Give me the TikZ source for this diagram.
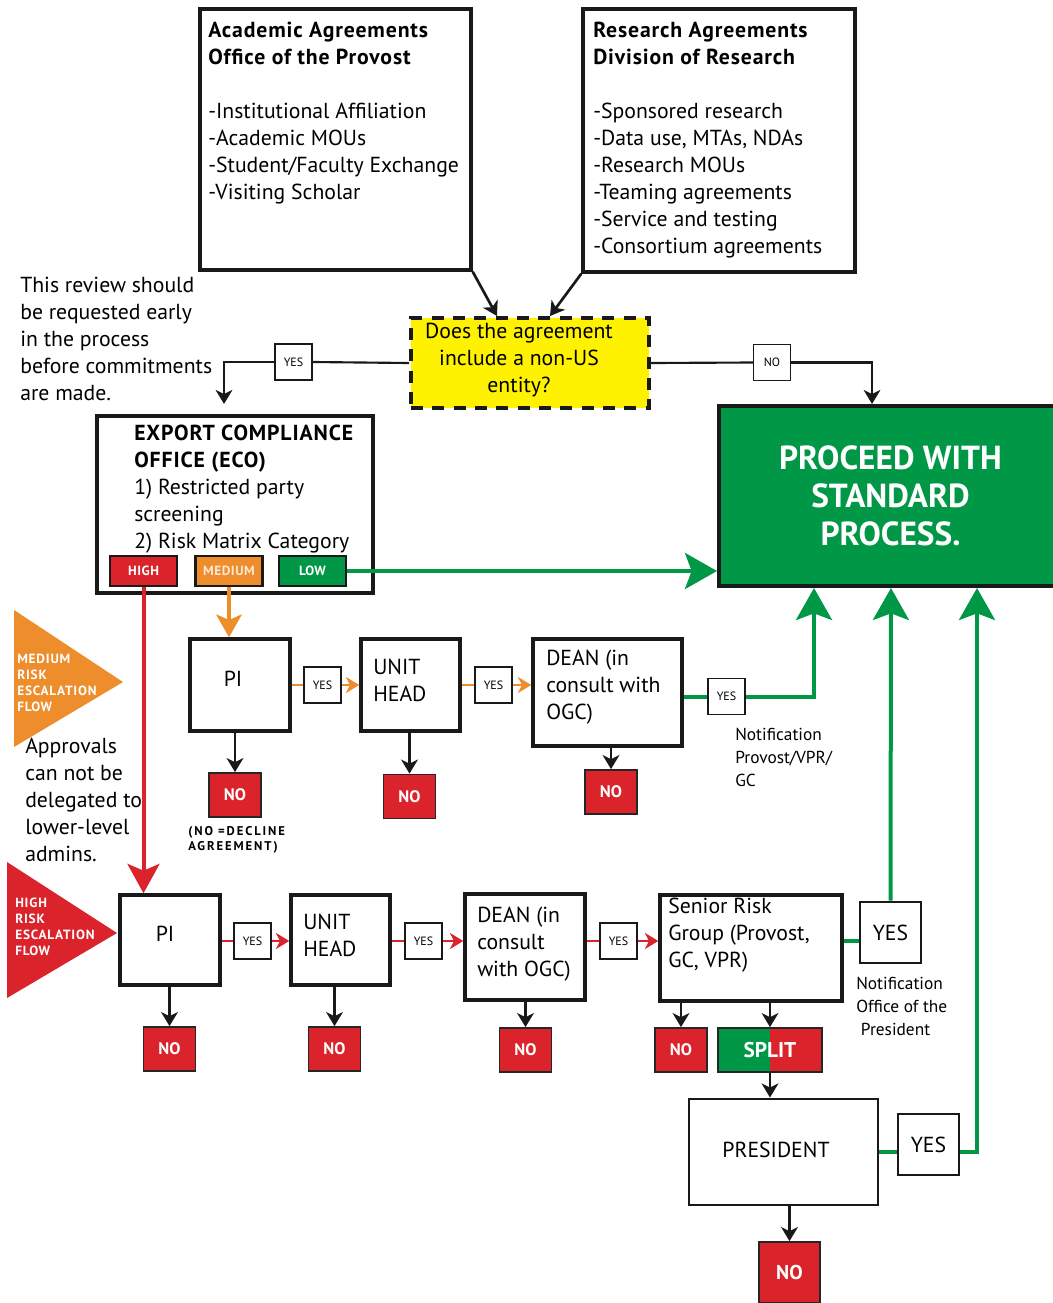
\documentclass[tikz,border=0pt]{standalone}
\usepackage{fontspec}
\setmainfont{PT Sans}
\usetikzlibrary{arrows.meta}
\definecolor{grn}{RGB}{0,152,70}
\definecolor{redno}{RGB}{218,35,42}
\definecolor{orng}{RGB}{238,141,43}
\definecolor{yel}{RGB}{255,242,0}
\newcommand{\bodysize}{\fontsize{16.3}{20.25}\selectfont}
\newcommand{\notesize}{\fontsize{13}{16.9}\selectfont}
\newcommand{\ttl}[1]{\textbf{\addfontfeature{LetterSpace=4}#1}}

\tikzset{
  box/.style={draw=black!90, line width=2.6pt, fill=white},
  txt/.style={inner sep=0pt, align=left, font=\bodysize},
  question/.style={fill=yel, draw=black!90, line width=3pt, dash pattern=on 9pt off 7pt},
  proceed/.style={fill=grn, draw=black!90, line width=3pt, text=white, align=center, font=\bfseries\fontsize{25}{28.5}\selectfont},
  yesbox/.style={draw=black!90, line width=1pt, fill=white, minimum width=27.75pt, minimum height=27pt, inner sep=0pt, font=\fontsize{9}{9}\selectfont},
  bigyes/.style={draw=black!90, line width=1.9pt, fill=white, minimum size=45.75pt, inner sep=0pt, font=\bodysize},
  nobox/.style={draw=black!85, line width=1.3pt, fill=redno, text=white, minimum width=39pt, minimum height=33pt, inner sep=0pt, font=\bfseries\fontsize{12.5}{12.5}\selectfont},
  badge/.style={draw=black!90, line width=1.9pt, text=white, minimum width=50.25pt, minimum height=22.5pt, inner sep=0pt, font=\bfseries\fontsize{10}{10}\selectfont\addfontfeature{LetterSpace=4}},
  tri/.style={inner sep=0pt, align=left, text=white, font=\bfseries\fontsize{10}{12}\selectfont\addfontfeature{LetterSpace=6}},
  blk/.style={draw=black!90, line width=1.6pt},
  blkarr/.style={draw=black!90, line width=2pt, -{Stealth[length=10.5pt,width=12.5pt,inset=3pt]}},
  grnline/.style={draw=grn, line width=3pt},
  grnarr/.style={grnline, -{Stealth[length=24pt,width=27pt,inset=5pt]}},
  orgline/.style={draw=orng, line width=2.2pt},
  orgarr/.style={orgline, -{Stealth[length=10pt,width=12pt,inset=3pt]}},
  orgbig/.style={draw=orng, line width=3pt, -{Stealth[length=17pt,width=19pt,inset=4pt]}},
  redline/.style={draw=redno, line width=2.2pt},
  redarr/.style={redline, -{Stealth[length=10pt,width=12pt,inset=3pt]}},
  redbig/.style={draw=redno, line width=3pt, -{Stealth[length=22pt,width=24pt,inset=5pt]}}
}

\begin{document}
\begin{tikzpicture}[x=0.75pt, y=-0.75pt]
\useasboundingbox (0,0) rectangle (1053,1303);

% agreement offices (text nodes sit on the baseline of their last line)
\node[box, minimum width=203.25pt, minimum height=195.75pt] (acad) at (335.5,139.5) {};
\node[txt, anchor=base west] (acadtxt) at (208,199) {\ttl{Academic Agreements}\\ \ttl{Office of the Provost}\\[20.25pt] -Institutional Affiliation\\ -Academic MOUs\\ -Student/Faculty Exchange\\ -Visiting Scholar};
\node[box, minimum width=204pt, minimum height=197.25pt] (resrch) at (719,140.5) {};
\node[txt, anchor=base west] (resrchtxt) at (593,253) {\ttl{Research Agreements}\\ \ttl{Division of Research}\\[20.25pt] -Sponsored research\\ -Data use, MTAs, NDAs\\ -Research MOUs\\ -Teaming agreements\\ -Service and testing\\ -Consortium agreements};

% question
\node[question, minimum width=178.5pt, minimum height=67.5pt] (quest) at (530,363) {};
\node[txt, align=center] (questtxt) at (519,360) {Does the agreement\\ include a non-US\\ entity?};
\node[txt, anchor=base west] (early) at (20,400) {This review should\\ be requested early\\ in the process\\ before commitments\\ are made.};
\node[yesbox] (yes0) at (293.5,362) {YES};
\node[yesbox] (no0) at (772,362.5) {NO};
\coordinate (ecoin) at (224,404);
\coordinate (procin) at (872,404);

% export compliance
\node[box, minimum width=207pt, minimum height=132.75pt] (eco) at (235,504.5) {};
\node[txt, anchor=base west] (ecotxt) at (134,548) {\ttl{EXPORT COMPLIANCE}\\ \ttl{OFFICE (ECO)}\\ 1) Restricted party\\ screening\\ 2) Risk Matrix Category};
\node[badge, fill=redno] (high) at (143.5,571) {HIGH};
\node[badge, fill=orng, text=white!80!orng] (medium) at (229,571) {MEDIUM};
\node[badge, fill=grn] (low) at (312.5,571) {LOW};

\node[proceed, minimum width=257.25pt, minimum height=135pt] (proceed) at (890.5,496) {PROCEED WITH\\ STANDARD\\ PROCESS.};
\coordinate (in1) at (814,588);
\coordinate (in2) at (891,588);
\coordinate (in3) at (977,588);

% flow labels
\fill[orng] (14,610) -- (14,747) -- (123,682) -- cycle;
\node[tri, anchor=base west] (medflow) at (17,711) {MEDIUM\\ RISK\\ ESCALATION\\ FLOW};
\node[txt, anchor=base west] (approvals) at (25,861) {Approvals\\ can not be\\ delegated to\\ lower-level\\ admins.};
\fill[redno] (7,862) -- (7,998) -- (117,933) -- cycle;
\node[tri, anchor=base west] (highflow) at (15,955) {HIGH\\ RISK\\ ESCALATION\\ FLOW};

% medium risk row
\node[box, minimum width=75pt, minimum height=69pt] (pi1) at (240,685) {};
\node[txt] (pi1txt) at (233,679) {PI};
\node[box, minimum width=74.25pt, minimum height=69pt] (uh1) at (410.5,685) {};
\node[txt, anchor=base west] (uh1txt) at (373,701) {UNIT\\ HEAD};
\node[box, minimum width=111.75pt, minimum height=80.25pt] (dean1) at (607.5,692.5) {};
\node[txt, anchor=base west] (dean1txt) at (546,719) {DEAN (in\\ consult with\\ OGC)};
\node[yesbox] (y11) at (322.5,685) {YES};
\node[yesbox] (y12) at (493.5,685) {YES};
\node[yesbox] (y13) at (726.5,696.5) {YES};
\node[txt, anchor=base west, font=\notesize] (notif1) at (735,786) {Notification\\ Provost/VPR/\\ GC};
\node[nobox] (no11) at (235,795) {NO};
\node[nobox] (no12) at (409.5,796.5) {NO};
\node[nobox] (no13) at (611,792) {NO};
\node[txt, anchor=base west, font=\bfseries\fontsize{9.5}{11.25}\selectfont\addfontfeature{LetterSpace=15}] (decline) at (188,850) {(NO =DECLINE\\ AGREEMENT)};

% high risk row
\node[box, minimum width=75pt, minimum height=67.5pt] (pi2) at (170,940) {};
\node[txt] (pi2txt) at (165,934) {PI};
\node[box, minimum width=74.25pt, minimum height=67.5pt] (uh2) at (340.5,940) {};
\node[txt, anchor=base west] (uh2txt) at (303,956) {UNIT\\ HEAD};
\node[box, minimum width=90pt, minimum height=79.5pt] (dean2) at (525,947) {};
\node[txt, anchor=base west] (dean2txt) at (477,976) {DEAN (in\\ consult\\ with OGC)};
\node[box, minimum width=136.5pt, minimum height=79.5pt] (srg) at (751,948) {};
\node[txt, anchor=base west] (srgtxt) at (668,967) {Senior Risk\\ Group (Provost,\\ GC, VPR)};
\node[yesbox] (y21) at (252.5,941) {YES};
\node[yesbox] (y22) at (423.5,941) {YES};
\node[yesbox] (y23) at (618.5,941) {YES};
\node[bigyes] (y24) at (890.5,932.5) {YES};
\node[txt, anchor=base west, font=\notesize] (notif2) at (856,1035) {Notification\\ Office of the\\ \ President};
\node[nobox] (no21) at (169.5,1049) {NO};
\node[nobox] (no22) at (334.5,1049) {NO};
\node[nobox] (no23) at (525.5,1050) {NO};
\node[nobox] (no24) at (681,1050) {NO};
\node[nobox, minimum width=78pt, fill=grn, font=\bfseries\fontsize{16}{16}\selectfont,
  path picture={\fill[redno] (path picture bounding box.north) rectangle (path picture bounding box.south east);}] (split) at (770,1050) {SPLIT};
\node[box, line width=2.2pt, minimum width=141.75pt, minimum height=79.5pt] (pres) at (783.5,1152) {};
\node[txt] (prestxt) at (776,1150) {PRESIDENT};
\node[bigyes] (y25) at (928.5,1144.5) {YES};
\node[nobox, minimum size=45.75pt, font=\bfseries\fontsize{15}{15}\selectfont] (no3) at (789.5,1272.5) {NO};

% connectors
\draw[blkarr] (acad.south east) -- ([xshift=-24.75pt]quest.north);
\draw[blkarr] (resrch.south west) -- ([xshift=15pt]quest.north);
\draw[blk] (quest.west) -- (yes0.east);
\draw[blk, -{Stealth[length=10.5pt,width=12.5pt,inset=3pt]}] (yes0.west) -| (ecoin);
\draw[blk] (quest.east) -- (no0.west);
\draw[blk, -{Stealth[length=10.5pt,width=12.5pt,inset=3pt]}] (no0.east) -| (procin);

\draw[grnarr] (low.east) -- (low.east -| proceed.west);
\draw[orgbig] (medium.south) -- (medium.south |- pi1.north);
\draw[redbig] (high.south) -- (high.south |- pi2.north);

\draw[orgline] (pi1.east |- y11) -- (y11.west);
\draw[orgarr] (y11.east) -- (y11.east -| uh1.west);
\draw[orgline] (uh1.east |- y12) -- (y12.west);
\draw[orgarr] (y12.east) -- (y12.east -| dean1.west);
\draw[grnline] (dean1.east |- y13) -- (y13.west);
\draw[grnarr] (y13.east) -| (in1);
\draw[blkarr] (pi1.south -| no11) -- (no11.north);
\draw[blkarr] (uh1.south -| no12) -- (no12.north);
\draw[blkarr] (dean1.south -| no13) -- (no13.north);

\draw[redline] (pi2.east |- y21) -- (y21.west);
\draw[redarr] (y21.east) -- (y21.east -| uh2.west);
\draw[redline] (uh2.east |- y22) -- (y22.west);
\draw[redarr] (y22.east) -- (y22.east -| dean2.west);
\draw[redline] (dean2.east |- y23) -- (y23.west);
\draw[redarr] (y23.east) -- (y23.east -| srg.west);
\draw[grnline] (srg.east |- y23) -- (y23 -| y24.west);
\draw[grnarr] (y24.north) -- (in2);
\draw[blkarr] (pi2.south -| no21) -- (no21.north);
\draw[blkarr] (uh2.south -| no22) -- (no22.north);
\draw[blkarr] (dean2.south -| no23) -- (no23.north);
\draw[blkarr] (srg.south -| no24) -- (no24.north);
\draw[blkarr] (srg.south -| split) -- (split.north);
\draw[blkarr] (split.south) -- (split.south |- pres.north);
\draw[grnline] (pres.east) -- (pres.east -| y25.west);
\draw[grnarr] (y25.east |- pres.east) -| (in3);
\draw[blkarr] (pres.south -| no3) -- (no3.north);
\end{tikzpicture}
\end{document}
